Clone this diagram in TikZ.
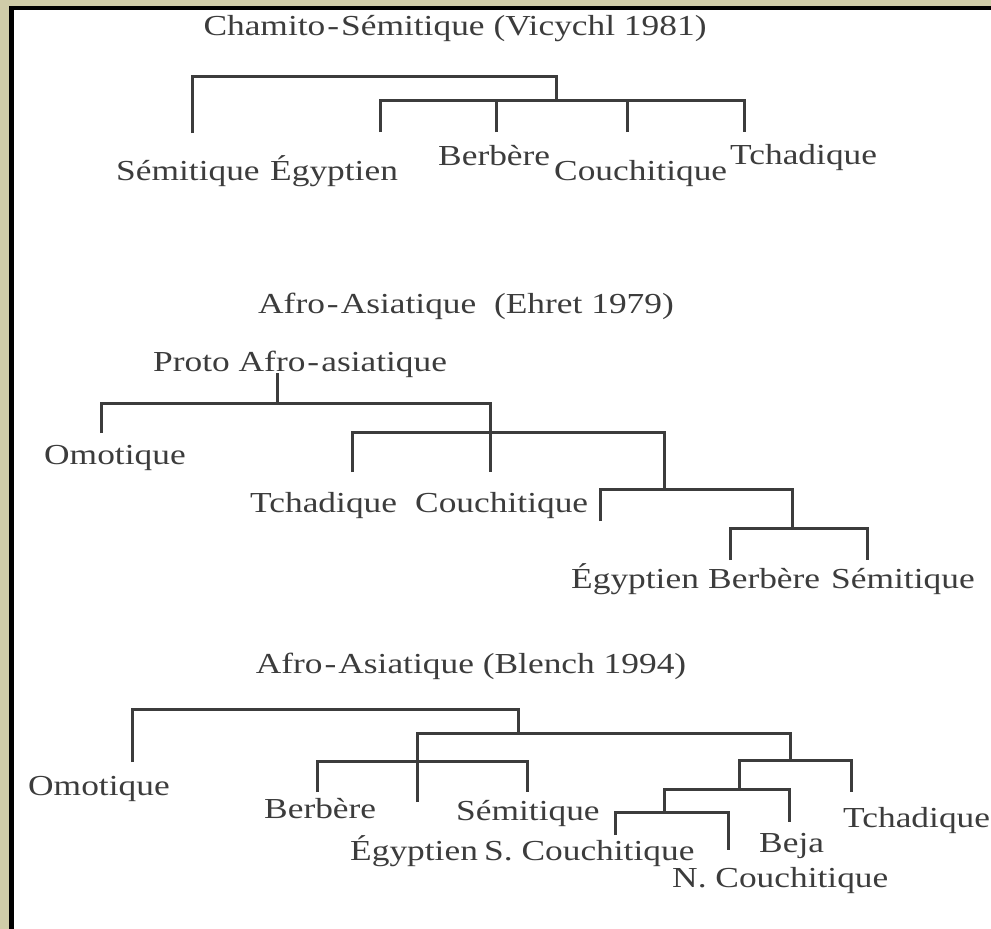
\documentclass[tikz,border=0pt]{standalone}
\usepackage{fontspec}
\setmainfont{Liberation Serif}[FakeStretch=1.22]
\definecolor{ink}{HTML}{3C3C3C}
\definecolor{mat}{HTML}{CFCCA8}
% loosely set hyphen, as in the headings
\newcommand{\lhy}{\kern2pt-\kern2pt}
\tikzset{
  lbl/.style={text=ink, inner sep=0pt, anchor=base west, font=\fontsize{29}{34}\selectfont},
  ttl/.style={text=ink, inner sep=0pt, anchor=base, font=\fontsize{29}{34}\selectfont},
  branch/.style={draw=ink, line width=3pt, line join=miter}
}
\begin{document}
\begin{tikzpicture}[x=1pt, y=-1pt]
\useasboundingbox (0,0) rectangle (991,929);
% mat, black rule and white sheet
\fill[mat] (0,0) rectangle (991,929);
\fill[black] (9,6) rectangle (991,929);
\fill[white] (14,10) rectangle (991,929);

% ---------------- Chamito-Sémitique (Vicychl 1981)
\node[ttl] (t1) at (455,35) {Chamito\lhy Sémitique (Vicychl 1981)};
\node[lbl] (a-sem-l) at (116,180) {Sémitique};
\node[lbl] (a-egy-l) at (270,180) {Égyptien};
\node[lbl] (a-ber-l) at (438,165) {Berbère};
\node[lbl] (a-cou-l) at (554,180) {Couchitique};
\node[lbl] (a-tch-l) at (730,164) {Tchadique};
\coordinate (a-sem) at (192,133);
\coordinate (a-top) at (556,76);
\coordinate (a-mid) at (556,100);
\coordinate (a-egy) at (380,132);
\coordinate (a-ber) at (496,132);
\coordinate (a-cou) at (627,132);
\coordinate (a-tch) at (744,132);
\draw[branch] (a-sem) |- (a-top) -- (a-mid);
\draw[branch] (a-egy) |- (a-mid) -| (a-tch);
\draw[branch] (a-ber) -- (a-ber |- a-mid);
\draw[branch] (a-cou) -- (a-cou |- a-mid);

% ---------------- Afro-Asiatique (Ehret 1979)
\node[ttl] (t2) at (466,313) {Afro\lhy Asiatique\ \ (Ehret 1979)};
\node[lbl] (b-root-l) at (153,371) {Proto Afro\lhy asiatique};
\node[lbl] (b-omo-l) at (44,464) {Omotique};
\node[lbl] (b-tch-l) at (250,512) {Tchadique};
\node[lbl] (b-cou-l) at (415,512) {Couchitique};
\node[lbl] (b-egy-l) at (571,588) {Égyptien};
\node[lbl] (b-ber-l) at (708,588) {Berbère};
\node[lbl] (b-sem-l) at (831,588) {Sémitique};
\coordinate (b-root) at (277,373);
\coordinate (b-j1) at (277,403);
\coordinate (b-omo) at (101,433);
\coordinate (b-cou) at (490,472);
\coordinate (b-tch) at (352,472);
\coordinate (b-j2) at (664,432);
\coordinate (b-j3) at (664,489);
\coordinate (b-stub) at (600,521);
\coordinate (b-j4) at (792,528);
\coordinate (b-egy) at (730,560);
\coordinate (b-sem) at (867,560);
\draw[branch] (b-root) -- (b-j1);
\draw[branch] (b-omo) |- (b-j1) -| (b-cou);
\draw[branch] (b-tch) |- (b-j2) -- (b-j3);
\draw[branch] (b-stub) |- (b-j3) -| (b-j4);
\draw[branch] (b-egy) |- (b-j4) -| (b-sem);

% ---------------- Afro-Asiatique (Blench 1994)
\node[ttl] (t3) at (471,673) {Afro\lhy Asiatique (Blench 1994)};
\node[lbl] (c-omo-l) at (28,795) {Omotique};
\node[lbl] (c-ber-l) at (264,818) {Berbère};
\node[lbl] (c-sem-l) at (456,820) {Sémitique};
\node[lbl] (c-egy-l) at (350,860) {Égyptien};
\node[lbl] (c-scou-l) at (484,860) {S. Couchitique};
\node[lbl] (c-beja-l) at (759,852) {Beja};
\node[lbl] (c-tch-l) at (843,827) {Tchadique};
\node[lbl] (c-ncou-l) at (672,887) {N. Couchitique};
\coordinate (c-omo) at (132,762);
\coordinate (c-j1) at (518,709);
\coordinate (c-j2) at (518,733);
\coordinate (c-egy) at (417,802);
\coordinate (c-j3) at (790,760);
\coordinate (c-j3b) at (417,761);
\coordinate (c-ber) at (317,792);
\coordinate (c-sem) at (527,792);
\coordinate (c-j4) at (739,789);
\coordinate (c-tch) at (851,792);
\coordinate (c-beja) at (789,822);
\coordinate (c-j5) at (664,812);
\coordinate (c-scou) at (615,835);
\coordinate (c-ncou) at (728,850);
\draw[branch] (c-omo) |- (c-j1) -- (c-j2);
\draw[branch] (c-egy) |- (c-j2) -| (c-j3);
\draw[branch] (c-ber) |- (c-j3b) -| (c-sem);
\draw[branch] (c-j4) |- (c-j3) -| (c-tch);
\draw[branch] (c-j5) |- (c-j4) -| (c-beja);
\draw[branch] (c-scou) |- (c-j5) -| (c-ncou);
\end{tikzpicture}
\end{document}
